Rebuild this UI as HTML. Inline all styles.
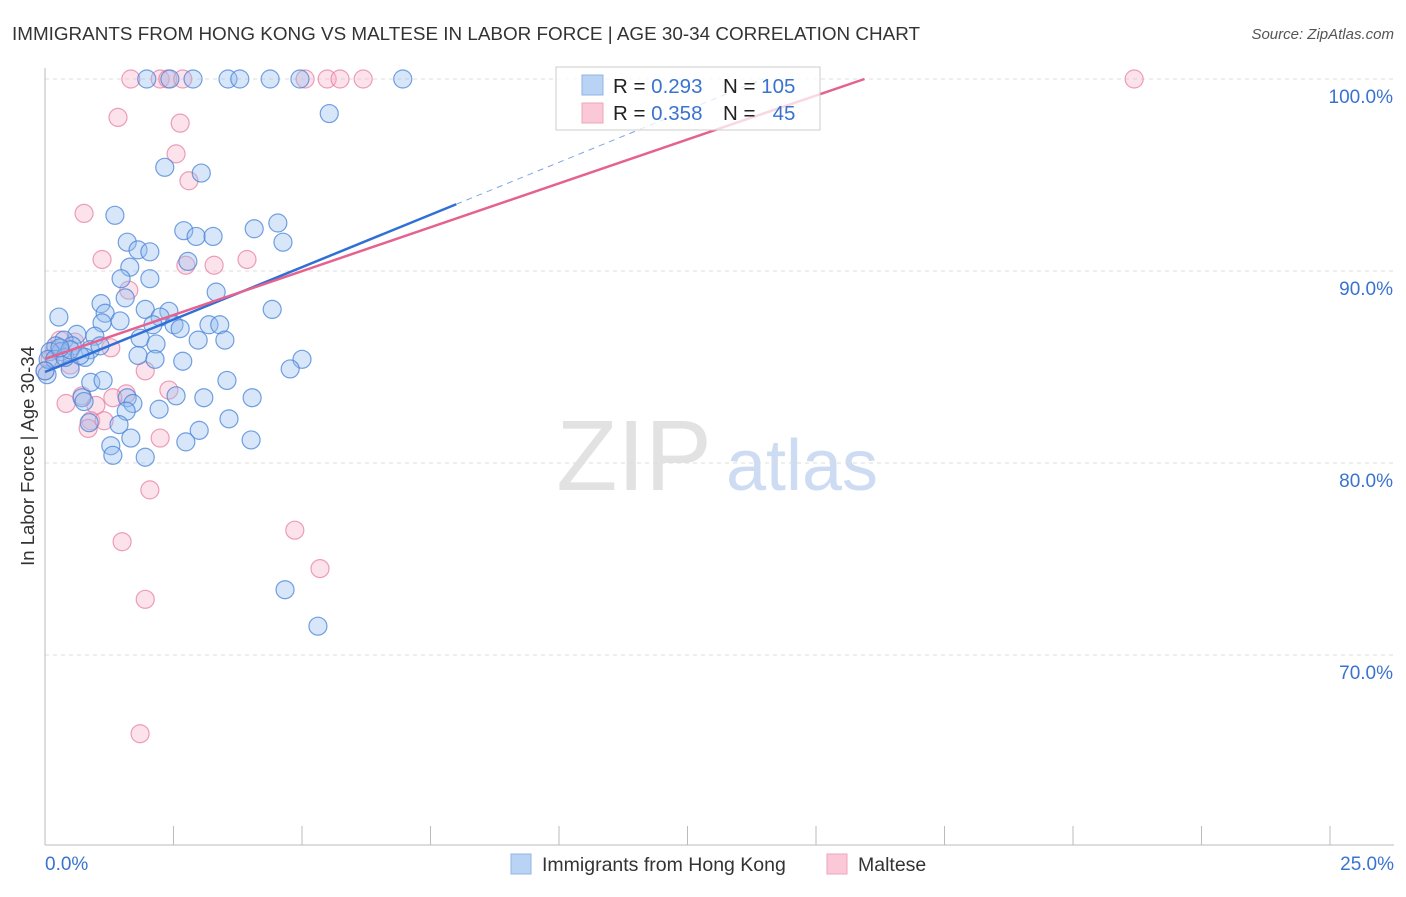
<!DOCTYPE html>
<html><head><meta charset="utf-8"><style>
body{margin:0;background:#fff;font-family:"Liberation Sans",sans-serif}
svg text{font-family:"Liberation Sans",sans-serif}
</style></head><body>
<svg id="chart" width="1406" height="892" viewBox="0 0 1406 892">
<text x="12" y="40" font-size="18" fill="#333" textLength="908" lengthAdjust="spacingAndGlyphs">IMMIGRANTS FROM HONG KONG VS MALTESE IN LABOR FORCE | AGE 30-34 CORRELATION CHART</text>
<text x="1394" y="39" font-size="15" fill="#555" font-style="italic" text-anchor="end">Source: ZipAtlas.com</text>
<g>
<text x="634" y="490" font-size="100" fill="#e2e2e2" font-family="Liberation Serif" text-anchor="middle">ZIP</text>
<text x="802" y="490" font-size="72" fill="#cddcf2" text-anchor="middle">atlas</text>
</g>
<g id="grid"></g>
<g id="axes"></g>
<g id="marks"></g>
<g>
<rect x="556" y="67" width="264" height="63" fill="rgba(255,255,255,0.75)" stroke="#ccc"/>
<rect x="582" y="75" width="21" height="20" fill="#b9d3f5" stroke="#8fb4e6"/>
<rect x="582" y="103" width="21" height="20" fill="#fac8d6" stroke="#eea6bc"/>
<text x="613" y="93" font-size="20.5" fill="#222">R = <tspan fill="#3a73cf">0.293</tspan></text>
<text x="723" y="93" font-size="20.5" fill="#222">N = <tspan fill="#3a73cf">105</tspan></text>
<text x="613" y="120" font-size="20.5" fill="#222">R = <tspan fill="#3a73cf">0.358</tspan></text>
<text x="723" y="120" font-size="20.5" fill="#222">N = <tspan fill="#3a73cf">&#160;&#160;45</tspan></text>
</g>
<g>
<rect x="511" y="854" width="20" height="20" fill="#b9d3f5" stroke="#8fb4e6"/>
<text x="542" y="871" font-size="19.5" fill="#333">Immigrants from Hong Kong</text>
<rect x="827" y="854" width="20" height="20" fill="#fac8d6" stroke="#eea6bc"/>
<text x="858" y="871" font-size="19.5" fill="#333">Maltese</text>
</g>
<text x="28" y="456" font-size="18.5" fill="#333" text-anchor="middle" transform="rotate(-90 28 456)" dy="6">In Labor Force | Age 30-34</text>
</svg>
<script>
const xTicks=[0,2.5,5,7.5,10,12.5,15,17.5,20,22.5,25];
const yGrid=[100,90,80,70];
const yLabels=["100.0%","90.0%","80.0%","70.0%"];
const blueX=[1.98,2.43,2.88,3.56,3.79,4.38,4.96,6.96,5.53,2.33,3.04,1.36,2.70,2.94,3.27,4.07,4.53,4.63,1.60,1.81,2.04,1.65,2.78,1.48,2.04,1.56,3.33,1.09,4.42,1.17,1.95,2.41,2.24,1.11,1.46,0.27,2.51,2.10,3.19,3.40,2.63,0.62,0.97,0.37,0.21,0.53,1.85,2.16,2.98,3.50,0.88,0.31,0.10,0.78,1.81,2.14,2.68,5.00,4.77,0.04,0.49,0.89,1.13,3.54,1.60,1.71,0.72,0.76,3.09,2.55,4.03,1.58,2.22,0.86,1.44,3.58,1.67,3.00,2.74,4.01,1.28,1.32,1.95,4.67,5.31,0.06,0.19,0.39,0.49,0.68,1.07,0.29,0.0];
const blueY=[100,100,100,100,100,100,100,100,98.2,95.4,95.1,92.9,92.1,91.8,91.8,92.2,92.5,91.5,91.5,91.1,91.0,90.2,90.5,89.6,89.6,88.6,88.9,88.3,88.0,87.8,88.0,87.9,87.6,87.3,87.4,87.6,87.2,87.2,87.2,87.2,87.0,86.7,86.6,86.4,86.1,86.1,86.5,86.2,86.4,86.4,85.9,85.8,85.8,85.5,85.6,85.4,85.3,85.4,84.9,84.6,84.9,84.2,84.3,84.3,83.4,83.1,83.4,83.2,83.4,83.5,83.4,82.7,82.8,82.1,82.0,82.3,81.3,81.7,81.1,81.2,80.9,80.4,80.3,73.4,71.5,85.4,85.4,85.5,85.9,85.6,86.1,86.0,84.8];
const pinkX=[1.67,2.24,2.39,2.68,5.06,5.49,5.74,6.19,21.19,1.42,2.63,2.55,2.80,0.76,1.11,2.74,3.29,3.93,1.63,1.28,0.29,0.58,0.10,0.49,1.95,2.41,0.72,0.99,1.58,1.32,0.89,0.84,1.15,2.24,0.41,2.04,1.50,4.86,5.35,1.95,1.85,0.19,0.0];
const pinkY=[100,100,100,100,100,100,100,100,100,98.0,97.7,96.1,94.7,93.0,90.6,90.3,90.3,90.6,89.0,86.0,86.4,86.3,85.4,85.1,84.8,83.8,83.5,83.0,83.6,83.4,82.2,81.8,82.2,81.3,83.1,78.6,75.9,76.5,74.5,72.9,65.9,85.9,84.8];
const blueTrend=[84.74,1.092];
const pinkTrend=[85.42,0.9145];
const NS="http://www.w3.org/2000/svg";
const X0=45,X1=1330,Y100=79,PX10=192;
const sx=v=>X0+v*(X1-X0)/25;
const sy=v=>Y100+(100-v)*PX10/10;
function mk(tag,attrs,parent){const e=document.createElementNS(NS,tag);for(const k in attrs)e.setAttribute(k,attrs[k]);parent.appendChild(e);return e;}
const grid=document.getElementById('grid'),axes=document.getElementById('axes'),marks=document.getElementById('marks');
yGrid.forEach((v,i)=>{
 const l=mk('line',{x1:X0,x2:1394,y1:sy(v),y2:sy(v),stroke:'#ddd','stroke-dasharray':'4 4'},grid);
 
 
 const t=mk('text',{x:1393,y:sy(v)+24,'font-size':19,fill:'#3a73cf','text-anchor':'end'},axes);
 t.textContent=yLabels[i];
 
 
});
const ax=mk('line',{x1:X0,x2:X0,y1:68,y2:845,stroke:'#bbb'},axes);


const bx=mk('line',{x1:X0,x2:1394,y1:845,y2:845,stroke:'#bbb'},axes);


xTicks.forEach(v=>{
 const t=mk('line',{x1:sx(v),x2:sx(v),y1:826,y2:845,stroke:'#bbb'},axes);
 
 
});
const xl0=mk('text',{x:45,y:870,'font-size':19,fill:'#3a73cf'},axes);xl0.textContent=xTicks[0].toFixed(1)+'%';


const xl1=mk('text',{x:1394,y:870,'font-size':19,fill:'#3a73cf','text-anchor':'end'},axes);xl1.textContent=xTicks[xTicks.length-1].toFixed(1)+'%';


pinkX.forEach((x,i)=>{
 const c=mk('circle',{cx:sx(x),cy:sy(pinkY[i]),r:9,fill:'rgba(246,175,198,0.35)',stroke:'rgba(230,120,155,0.7)','stroke-width':1.2},marks);
 
 
});
blueX.forEach((x,i)=>{
 const c=mk('circle',{cx:sx(x),cy:sy(blueY[i]),r:9,fill:'rgba(150,190,240,0.38)',stroke:'rgba(70,130,215,0.75)','stroke-width':1.2},marks);
 
 
});
function xAt(tr,yv){return (yv-tr[0])/tr[1];}
const bEnd=xAt(blueTrend,100), bSolid=8.0;
const bl=mk('line',{x1:sx(0),y1:sy(blueTrend[0]),x2:sx(bSolid),y2:sy(blueTrend[0]+blueTrend[1]*bSolid),stroke:'#2f6fd6','stroke-width':2.5},marks);


const bd=mk('line',{x1:sx(bSolid),y1:sy(blueTrend[0]+blueTrend[1]*bSolid),x2:sx(bEnd),y2:sy(100),stroke:'#7fa6e0','stroke-width':1,'stroke-dasharray':'6 5'},marks);


const pEnd=xAt(pinkTrend,100);
const pl=mk('line',{x1:sx(0),y1:sy(pinkTrend[0]),x2:sx(pEnd),y2:sy(100),stroke:'#e5628e','stroke-width':2.5},marks);


</script>
</body></html>
